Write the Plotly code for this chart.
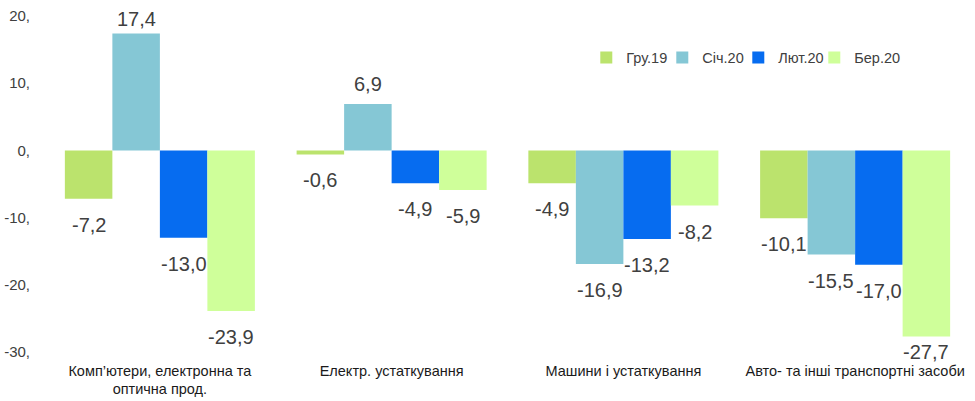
import plotly.graph_objects as go

categories = ["Комп’ютери, електронна та<br>оптична прод.", "Електр. устаткування",
              "Машини і устаткування", "Авто- та інші транспортні засоби"]
series_names = ["Гру.19", "Січ.20", "Лют.20", "Бер.20"]
values = {
    "Гру.19": [-7.2, -0.6, -4.9, -10.1],
    "Січ.20": [17.4, 6.9, -16.9, -15.5],
    "Лют.20": [-13.0, -4.9, -13.2, -17.0],
    "Бер.20": [-23.9, -5.9, -8.2, -27.7],
}
colors = {"Гру.19": "#bbe36d", "Січ.20": "#85c7d5", "Лют.20": "#066cf0", "Бер.20": "#cfff9a"}
tick_vals = [-30, -20, -10, 0, 10, 20]
tick_text = ["-30,", "-20,", "-10,", "0,", "10,", "20,"]
y_range = [-30, 20]

FONT = "Liberation Sans, Arial, sans-serif"
BARGAP = 0.18
HEIGHT, MT, MB = 401, 16, 49
px_per_unit = (HEIGHT - MT - MB) / (y_range[1] - y_range[0])

fig = go.Figure()
for name in series_names:
    fig.add_trace(go.Bar(
        name=name, x=categories, y=values[name], marker_color=colors[name],
        marker_line_width=0,
    ))
# invisible spacer entry so the last legend label is not clipped
fig.add_trace(go.Scatter(x=[None], y=[None], mode="lines", name=" ",
                         line=dict(color="rgba(0,0,0,0)", width=0), hoverinfo="skip"))

# data labels placed beyond each bar's end, kept inside the value range
n = len(series_names)
slot = (1 - BARGAP) / n
for j, name in enumerate(series_names):
    for i, v in enumerate(values[name]):
        if v >= 0:
            ly = min(v + 20 / px_per_unit, y_range[1] - 0.5)
        else:
            ly = max(v - 26 / px_per_unit, y_range[0])
        fig.add_annotation(
            x=i + (j - (n - 1) / 2) * slot, y=ly, xref="x", yref="y",
            text=f"{v:.1f}".replace(".", ","), showarrow=False, yanchor="middle",
            font=dict(size=20, color="#404040", family=FONT),
        )

fig.update_layout(
    width=975, height=HEIGHT, barmode="group", bargap=BARGAP, bargroupgap=0,
    plot_bgcolor="white", paper_bgcolor="white",
    margin=dict(l=44, r=4, t=MT, b=MB, autoexpand=False),
    font=dict(family=FONT, color="#404040"),
    legend=dict(orientation="h", x=0.585, y=0.876, xanchor="left", yanchor="middle",
                font=dict(size=14.5, color="#404040", family=FONT), itemwidth=30,
                entrywidth=31, traceorder="normal"),
)
fig.update_yaxes(range=y_range, tickvals=tick_vals, ticktext=tick_text, showgrid=False,
                 zeroline=False, showline=False, tickfont=dict(size=15, color="#404040"),
                 ticklabelstandoff=13, automargin=False)
fig.update_xaxes(showgrid=False, showline=False, tickfont=dict(size=14.5, color="#1a1a1a"),
                 ticklabelstandoff=8, automargin=False)
fig.write_html("out.html", config={"displayModeBar": False},
               post_script="document.body.style.margin='0px';")
